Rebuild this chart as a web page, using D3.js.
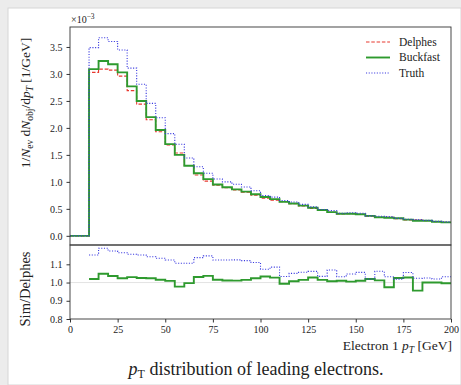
<!DOCTYPE html>
<html>
<head>
<meta charset="utf-8">
<script src="https://cdn.jsdelivr.net/npm/d3@7"></script>
<style>
  body { margin: 0; background: #ececec; }
  svg { display: block; }
  text { font-family: "Liberation Serif", "DejaVu Serif", serif; fill: #222; }
</style>
</head>
<body>
<svg width="461" height="385"></svg>
<script>
// bin left edges (GeV), 5 GeV bins from 0 to 200
const binEdges = d3.range(0, 200, 5);
const xTicks = [0, 25, 50, 75, 100, 125, 150, 175, 200];
const yTicksTop = [0, 0.5, 1.0, 1.5, 2.0, 2.5, 3.0, 3.5];
const yTicksBottom = [0.8, 0.9, 1.0, 1.1];

// normalised counts, in units of 1e-3 / GeV
const delphes = [0, 0,
  3.03, 3.09, 3.07, 2.96, 2.69, 2.44, 2.15, 1.93, 1.685, 1.534,
  1.304, 1.126, 1.013, 0.936, 0.890, 0.851, 0.808, 0.752, 0.697, 0.662,
  0.634, 0.596, 0.552, 0.506, 0.473, 0.437, 0.406, 0.408, 0.396, 0.363,
  0.341, 0.344, 0.317, 0.292, 0.293, 0.280, 0.262, 0.251];
const buckfast = [0, 0,
  3.09, 3.24, 3.18, 3.03, 2.77, 2.50, 2.20, 1.96, 1.70, 1.50,
  1.30, 1.16, 1.05, 0.95, 0.90, 0.86, 0.82, 0.77, 0.72, 0.68,
  0.63, 0.60, 0.56, 0.52, 0.48, 0.44, 0.41, 0.41, 0.40, 0.37,
  0.345, 0.335, 0.325, 0.30, 0.28, 0.28, 0.262, 0.25];
const truth = [0, 0,
  3.488, 3.671, 3.601, 3.445, 3.107, 2.808, 2.455, 2.187, 1.894, 1.697,
  1.442, 1.280, 1.161, 1.052, 1.000, 0.957, 0.905, 0.835, 0.748, 0.718,
  0.655, 0.626, 0.583, 0.537, 0.489, 0.467, 0.419, 0.427, 0.418, 0.370,
  0.362, 0.355, 0.323, 0.308, 0.300, 0.287, 0.267, 0.259];

const seriesNames = ["Delphes", "Buckfast", "Truth"];
const seriesColors = ["#e8382f", "#2e9a2e", "#3a3ae0"];

const svg = d3.select("svg");
svg.append("rect").attr("x", 8).attr("y", 8).attr("width", 453).attr("height", 377)
  .attr("fill", "#fff").attr("stroke", "#d6d6d6");

const left = 70, right = 451;
const topY = 27, midY = 245, botY = 319;

const x = d3.scaleLinear().domain([0, 200]).range([left, right]);
const yTop = d3.scaleLinear().domain([-0.17, 3.87]).range([midY, topY]);
const yBot = d3.scaleLinear().domain([0.8, 1.206]).range([botY, midY]);

function stepPoints(vals) {
  let pts = binEdges.map((e, i) => [e, vals[i]]);
  pts.push([200, vals[vals.length - 1]]);
  return pts;
}

function ratioPoints(num) {
  let pts = [];
  binEdges.forEach((e, i) => {
    if (delphes[i] > 0) pts.push([e, num[i] / delphes[i]]);
  });
  pts.push([200, num[num.length - 1] / delphes[delphes.length - 1]]);
  return pts;
}

const lineTop = d3.line().x(d => x(d[0])).y(d => yTop(d[1])).curve(d3.curveStepAfter);
const lineBot = d3.line().x(d => x(d[0])).y(d => yBot(d[1])).curve(d3.curveStepAfter);

const styles = [
  { color: seriesColors[0], width: 1.1, dash: "3.5,1.8" },
  { color: seriesColors[1], width: 1.9, dash: null },
  { color: seriesColors[2], width: 1.1, dash: "1.1,1.6" }
];

svg.append("clipPath").attr("id", "clipTop").append("rect")
  .attr("x", left).attr("y", topY).attr("width", right - left).attr("height", midY - topY);
svg.append("clipPath").attr("id", "clipBot").append("rect")
  .attr("x", left).attr("y", midY).attr("width", right - left).attr("height", botY - midY);

// upper panel
const gTop = svg.append("g").attr("clip-path", "url(#clipTop)");
[delphes, buckfast, truth].forEach((vals, k) => {
  gTop.append("path")
    .attr("d", lineTop(stepPoints(vals)))
    .attr("fill", "none")
    .attr("stroke", styles[k].color)
    .attr("stroke-width", styles[k].width)
    .attr("stroke-dasharray", styles[k].dash);
});

// lower panel
const gBot = svg.append("g").attr("clip-path", "url(#clipBot)");
gBot.append("line")
  .attr("x1", left).attr("x2", right)
  .attr("y1", yBot(1)).attr("y2", yBot(1))
  .attr("stroke", "#dcdcdc").attr("stroke-width", 0.8);
[buckfast, truth].forEach((vals, j) => {
  const k = j + 1;
  gBot.append("path")
    .attr("d", lineBot(ratioPoints(vals)))
    .attr("fill", "none")
    .attr("stroke", styles[k].color)
    .attr("stroke-width", styles[k].width)
    .attr("stroke-dasharray", styles[k].dash);
});

// axes
const axisColor = "#333";
function styleAxis(g) {
  g.select(".domain").remove();
  g.selectAll("line").attr("stroke", axisColor);
  g.selectAll("text").attr("font-family", "Liberation Serif").attr("font-size", 10).attr("fill", "#333");
}

svg.append("g").attr("transform", `translate(${left},0)`)
  .call(d3.axisLeft(yTop).tickValues(yTicksTop).tickFormat(d3.format(".1f")).tickSize(3.5).tickPadding(4))
  .call(styleAxis);
svg.append("g").attr("transform", `translate(${left},0)`)
  .call(d3.axisLeft(yBot).tickValues(yTicksBottom).tickFormat(d3.format(".1f")).tickSize(3.5).tickPadding(4))
  .call(styleAxis);
svg.append("g").attr("transform", `translate(0,${botY})`)
  .call(d3.axisBottom(x).tickValues(xTicks).tickFormat(d3.format("d")).tickSize(3.5).tickPadding(3))
  .call(styleAxis);

// frames
svg.append("rect").attr("x", left).attr("y", topY).attr("width", right - left).attr("height", midY - topY)
  .attr("fill", "none").attr("stroke", axisColor).attr("stroke-width", 0.9);
svg.append("rect").attr("x", left).attr("y", midY).attr("width", right - left).attr("height", botY - midY)
  .attr("fill", "none").attr("stroke", axisColor).attr("stroke-width", 0.9);

// offset text
const off = svg.append("text").attr("x", left + 1).attr("y", 23).attr("font-size", 10);
off.append("tspan").text("×10");
off.append("tspan").attr("dy", -4).attr("font-size", 7.5).text("−3");

// y labels
const yl = svg.append("text").attr("transform", `translate(30,103) rotate(-90)`)
  .attr("text-anchor", "middle").attr("font-size", 13.5);
yl.append("tspan").text("1/");
yl.append("tspan").attr("font-style", "italic").text("N");
yl.append("tspan").attr("dy", 3).attr("font-size", 9.5).text("ev");
yl.append("tspan").attr("dy", -3).text(" d");
yl.append("tspan").attr("font-style", "italic").text("N");
yl.append("tspan").attr("dy", 3).attr("font-size", 9.5).text("obj");
yl.append("tspan").attr("dy", -3).text("/d");
yl.append("tspan").attr("font-style", "italic").text("p");
yl.append("tspan").attr("dy", 3).attr("font-size", 9.5).attr("font-style", "italic").text("T");
yl.append("tspan").attr("dy", -3).text(" [1/GeV]");

svg.append("text").attr("transform", `translate(30,${(midY + botY) / 2 + 7}) rotate(-90)`)
  .attr("text-anchor", "middle").attr("font-size", 14.5).text("Sim/Delphes");

// x label
const xl = svg.append("text").attr("x", right + 1).attr("y", 350).attr("text-anchor", "end").attr("font-size", 13.5);
xl.append("tspan").text("Electron 1 ");
xl.append("tspan").attr("font-style", "italic").text("p");
xl.append("tspan").attr("dy", 3).attr("font-size", 9.5).attr("font-style", "italic").text("T");
xl.append("tspan").attr("dy", -3).text(" [GeV]");

// caption
const cap = svg.append("text").attr("x", 256).attr("y", 375).attr("text-anchor", "middle").attr("font-size", 18);
cap.append("tspan").attr("font-style", "italic").text("p");
cap.append("tspan").attr("dy", 3).attr("font-size", 12).text("T");
cap.append("tspan").attr("dy", -3).text(" distribution of leading electrons.");

// legend
const legend = svg.append("g");
seriesNames.forEach((name, k) => {
  const ly = 42 + k * 15.5;
  legend.append("line")
    .attr("x1", 366).attr("x2", 390).attr("y1", ly).attr("y2", ly)
    .attr("stroke", styles[k].color)
    .attr("stroke-width", styles[k].width)
    .attr("stroke-dasharray", styles[k].dash);
  legend.append("text").attr("x", 399).attr("y", ly + 3.5).attr("font-size", 11.5).text(name);
});
</script>
</body>
</html>
